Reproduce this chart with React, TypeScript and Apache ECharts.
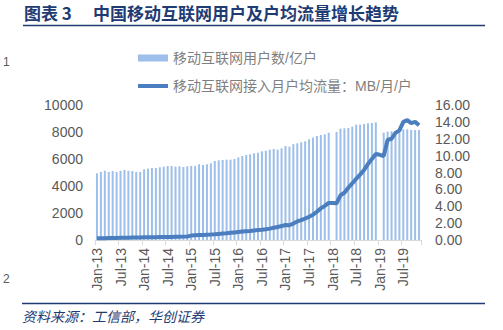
import React, { useEffect, useRef } from "react";
import * as echarts from "echarts";

const MONTHS = ["Jan", "Feb", "Mar", "Apr", "May", "Jun", "Jul", "Aug", "Sep", "Oct", "Nov", "Dec"];
const YEARS = ["13", "14", "15", "16", "17", "18", "19"];
const LAST_MONTH_2019 = 11; // Jan-13 .. Nov-19

const categories: string[] = [];
YEARS.forEach((y) => {
  MONTHS.forEach((m, i) => {
    if (y === "19" && i >= LAST_MONTH_2019) return;
    categories.push(`${m}-${y}`);
  });
});

// 移动互联网用户数 (left axis)
const users: (number | null)[] = [
  4940, 5040, 5130, 5040, 5110, 5040, 5130, 5185, 5130, 5110, 5040, 5040,
  5235, 5285, 5333, 5333, 5380, 5430, 5480, 5481, 5432, 5457, 5407, 5457,
  5481, 5481, 5605, 5556, 5605, 5679, 5852, 5901, 5926, 5951, 5951, 6000,
  6123, 6222, 6296, 6346, 6420, 6469, 6568, 6617, 6691, 6741, 6691, 6790,
  6963, 6914, 7100, 7160, 7235, 7309, 7457, 7580, 7704, 7778, 7827, 7951,
  null, 8000, 8247, 8272, 8296, 8395, 8543, 8543, 8593, 8642, 8667, 8716,
  null, 7951, 8025, 8049, 8074, 8099, 8198, 8198, 8148, 8148, 8148,
];

// 移动互联网接入月户均流量 (right axis)
const traffic: number[] = [
  0.2, 0.21, 0.22, 0.23, 0.24, 0.25, 0.26, 0.27, 0.28, 0.29, 0.3, 0.31,
  0.32, 0.33, 0.33, 0.34, 0.35, 0.35, 0.36, 0.37, 0.38, 0.39, 0.4, 0.42,
  0.52, 0.55, 0.58, 0.6, 0.63, 0.65, 0.68, 0.72, 0.76, 0.8, 0.85, 0.9,
  0.95, 1.0, 1.04, 1.08, 1.13, 1.18, 1.22, 1.28, 1.35, 1.45, 1.55, 1.65,
  1.78, 1.75, 1.95, 2.2, 2.35, 2.55, 2.75, 3.0, 3.35, 3.75, 4.05, 4.4,
  4.38, 4.35, 5.3, 5.6, 6.2, 6.7, 7.25, 7.75, 8.3, 9.0, 9.6, 10.2,
  10.1, 9.95, 11.85, 12.0, 12.7, 13.0, 14.0, 14.2, 13.85, 14.0, 13.6,
];

const LEFT_TICKS = [0, 10000, 2000];
const RIGHT_TICKS = [0, 16, 2];

const SERIES_USERS = "移动互联网用户数/亿户";
const SERIES_TRAFFIC = "移动互联网接入月户均流量：MB/月/户";
const TITLE_NO = "图表 3";
const TITLE = "中国移动互联网用户及户均流量增长趋势";
const SOURCE = "资料来源：工信部，华创证券";

const FONT = '"Liberation Sans", "Noto Sans CJK SC", sans-serif';
const CJK = '"Noto Sans CJK SC", sans-serif';
const NAVY = "#1f3b73";
const GRAY = "#595959";
const BAR_COLOR = "#9dbfe9";
const LINE_COLOR = "#4a7ebf";

export default function App() {
  const ref = useRef<HTMLDivElement>(null);
  useEffect(() => {
    if (!ref.current) return;
    const chart = echarts.init(ref.current, undefined, { renderer: "svg" });
    chart.setOption({
      animation: false,
      backgroundColor: "#ffffff",
      textStyle: { fontFamily: FONT },
      grid: { left: 95, right: 82, top: 105, bottom: 90, containLabel: false },
      legend: {
        orient: "vertical",
        left: 133,
        top: 46,
        itemWidth: 30,
        itemHeight: 7,
        itemGap: 14,
        textStyle: { fontSize: 14, color: "#7f7f7f", fontFamily: FONT },
        data: [
          { name: SERIES_USERS, icon: "rect" },
          {
            name: SERIES_TRAFFIC,
            icon: "path://M0,0 L30,0 L30,4 L0,4 Z",
            itemStyle: { color: LINE_COLOR, borderWidth: 0 },
          },
        ],
      },
      xAxis: {
        type: "category",
        data: categories,
        boundaryGap: true,
        axisLine: { lineStyle: { color: "#d9d9d9", width: 1 } },
        axisTick: { show: true, interval: 5, length: 5, lineStyle: { color: "#d9d9d9" } },
        axisLabel: { interval: 5, rotate: 90, margin: 8, fontSize: 14, color: GRAY, fontFamily: FONT },
        splitLine: { show: false },
      },
      yAxis: [
        {
          type: "value",
          min: LEFT_TICKS[0],
          max: LEFT_TICKS[1],
          interval: LEFT_TICKS[2],
          axisLine: { show: false },
          axisTick: { show: false },
          splitLine: { show: false },
          axisLabel: {
            fontSize: 14,
            color: GRAY,
            margin: 12,
            fontFamily: FONT,
            formatter: (v: number) => String(v),
          },
        },
        {
          type: "value",
          min: RIGHT_TICKS[0],
          max: RIGHT_TICKS[1],
          interval: RIGHT_TICKS[2],
          axisLine: { show: false },
          axisTick: { show: false },
          splitLine: { show: false },
          axisLabel: {
            fontSize: 14,
            color: GRAY,
            margin: 14,
            fontFamily: FONT,
            formatter: (v: number) => v.toFixed(2),
          },
        },
      ],
      series: [
        {
          name: SERIES_USERS,
          type: "bar",
          yAxisIndex: 0,
          data: users,
          barWidth: 2,
          itemStyle: { color: BAR_COLOR },
        },
        {
          name: SERIES_TRAFFIC,
          type: "line",
          yAxisIndex: 1,
          data: traffic,
          symbol: "none",
          lineStyle: { color: LINE_COLOR, width: 4 },
          itemStyle: { color: LINE_COLOR },
          z: 3,
        },
      ],
      graphic: [
        { type: "text", left: 24, top: 4, style: { text: TITLE_NO, font: `bold 17px ${CJK}`, fill: NAVY } },
        { type: "text", left: 93, top: 4, style: { text: TITLE, font: `bold 17px ${CJK}`, fill: NAVY } },
        { type: "line", shape: { x1: 23, y1: 25.5, x2: 485, y2: 25.5 }, style: { stroke: NAVY, lineWidth: 1.5 } },
        { type: "text", left: 3, top: 56, style: { text: "1", font: `12px ${FONT}`, fill: GRAY } },
        { type: "text", left: 3, top: 273, style: { text: "2", font: `12px ${FONT}`, fill: GRAY } },
        { type: "line", shape: { x1: 22, y1: 303.5, x2: 485, y2: 303.5 }, style: { stroke: NAVY, lineWidth: 1.5 } },
        { type: "text", left: 22, top: 309, style: { text: SOURCE, font: `italic 14px ${CJK}`, fill: NAVY } },
      ],
    });
    return () => chart.dispose();
  }, []);
  return (
    <div
      ref={ref}
      style={{ position: "fixed", left: 0, top: 0, width: 503, height: 330, background: "#fff" }}
    />
  );
}
